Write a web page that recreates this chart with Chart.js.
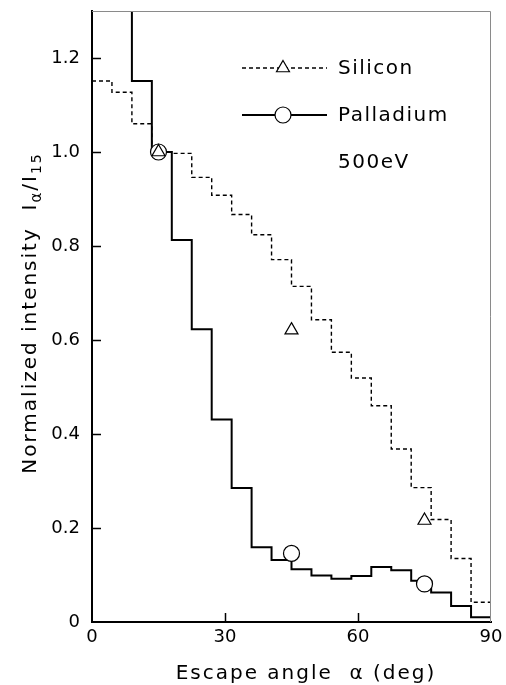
<!DOCTYPE html>
<html lang="en">
<head>
<meta charset="UTF-8">
<title>Normalized intensity vs escape angle</title>
<script src="https://cdn.jsdelivr.net/npm/chart.js"></script>
<style>
  html, body { margin: 0; padding: 0; background: #fff; }
  #wrap { width: 506px; height: 685px; }
</style>
</head>
<body>
<div id="wrap"><canvas id="chart"></canvas></div>
<script>
// histogram bins, 4.5 deg wide
const binEdges = [0, 4.5, 9, 13.5, 18, 22.5, 27, 31.5, 36, 40.5, 45, 49.5, 54, 58.5, 63, 67.5, 72, 76.5, 81, 85.5, 90];
const siliconValues = [1.151, 1.127, 1.060, 1.0, 0.997, 0.946, 0.908, 0.867, 0.824, 0.771, 0.714, 0.643, 0.574, 0.519, 0.460, 0.368, 0.286, 0.218, 0.135, 0.042];
// first Pd bins run off the top of the frame
const palladiumValues = [null, 1.45, 1.151, 1.0, 0.813, 0.623, 0.431, 0.285, 0.159, 0.132, 0.112, 0.099, 0.092, 0.098, 0.117, 0.110, 0.088, 0.063, 0.034, 0.010];
// measured points
const markerAngles = [15, 45, 75];
const siliconMarkers = [1.0, 0.621, 0.216];
const palladiumMarkers = [1.0, 0.146, 0.081];
const xTicks = [0, 30, 60, 90];
const yTicks = [0, 0.2, 0.4, 0.6, 0.8, 1.0, 1.2];

const FONT = "'DejaVu Sans', sans-serif";

// one point per left bin edge, plus the closing edge
function steps(values) {
  const pts = values.map((v, i) => ({ x: binEdges[i], y: v }));
  pts.push({ x: binEdges[binEdges.length - 1], y: values[values.length - 1] });
  return pts;
}
function markers(values) {
  return markerAngles.map((a, i) => ({ x: a, y: values[i] }));
}

// inward ticks, thin top/right frame, legend and axis titles
const decorations = {
  id: 'decorations',
  afterDraw(chart) {
    const { ctx, chartArea: ca, scales: { x, y } } = chart;
    ctx.save();
    // top and right frame
    ctx.strokeStyle = '#8a8a8a';
    ctx.lineWidth = 1;
    ctx.beginPath();
    ctx.moveTo(ca.left, ca.top + 0.5);
    ctx.lineTo(ca.right - 0.5, ca.top + 0.5);
    ctx.lineTo(ca.right - 0.5, ca.bottom);
    ctx.stroke();
    // inward ticks
    ctx.strokeStyle = '#000';
    ctx.lineWidth = 1.5;
    ctx.beginPath();
    yTicks.filter(v => v > 0).forEach(v => {
      const py = Math.round(y.getPixelForValue(v)) + 0.5;
      ctx.moveTo(ca.left, py);
      ctx.lineTo(ca.left + 9, py);
    });
    [30, 60].forEach(v => {
      const px = Math.round(x.getPixelForValue(v)) + 0.5;
      ctx.moveTo(px, ca.bottom);
      ctx.lineTo(px, ca.bottom - 9);
    });
    ctx.stroke();

    // legend
    const lx0 = 242, lx1 = 327, mx = 283, tx = 338;
    ctx.lineWidth = 1.4;
    ctx.setLineDash([4, 3]);
    ctx.beginPath();
    ctx.moveTo(lx0, 68); ctx.lineTo(lx1, 68);
    ctx.stroke();
    ctx.setLineDash([]);
    ctx.lineWidth = 2;
    ctx.beginPath();
    ctx.moveTo(lx0, 115); ctx.lineTo(lx1, 115);
    ctx.stroke();
    ctx.lineWidth = 1.2;
    ctx.fillStyle = '#fff';
    // triangle
    const r = 7.5;
    ctx.beginPath();
    ctx.moveTo(mx, 68 - r);
    ctx.lineTo(mx + r * 0.866, 68 + r * 0.5);
    ctx.lineTo(mx - r * 0.866, 68 + r * 0.5);
    ctx.closePath();
    ctx.fill(); ctx.stroke();
    // circle
    ctx.beginPath();
    ctx.arc(mx, 115, 8, 0, Math.PI * 2);
    ctx.fill(); ctx.stroke();

    ctx.fillStyle = '#000';
    ctx.font = '20px ' + FONT;
    ctx.letterSpacing = '1.5px';
    ctx.textAlign = 'left';
    ctx.textBaseline = 'middle';
    ctx.fillText('Silicon', tx, 69);
    ctx.fillText('Palladium', tx, 116);
    ctx.fillText('500eV', tx, 163);

    // x title
    ctx.letterSpacing = '2px';
    ctx.textAlign = 'center';
    ctx.fillText('Escape angle  \u03b1 (deg)', 306, 674);

    // y title with subscripts
    const parts = [
      ['Normalized intensity  I', 20, 0],
      ['\u03b1', 15, 5],
      ['/I', 20, 0],
      ['15', 14, 5]
    ];
    ctx.textAlign = 'left';
    ctx.textBaseline = 'alphabetic';
    let total = 0;
    parts.forEach(p => { ctx.font = p[1] + 'px ' + FONT; total += ctx.measureText(p[0]).width; });
    ctx.translate(36, 313);
    ctx.rotate(-Math.PI / 2);
    let cx = -total / 2;
    parts.forEach(p => {
      ctx.font = p[1] + 'px ' + FONT;
      ctx.fillText(p[0], cx, p[2]);
      cx += ctx.measureText(p[0]).width;
    });
    ctx.restore();
  }
};

const config = {
  type: 'scatter',
  data: {
    datasets: [
      {
        label: 'Silicon points',
        data: markers(siliconMarkers),
        pointStyle: 'triangle',
        pointRadius: 7.5,
        backgroundColor: '#fff',
        borderColor: '#000',
        borderWidth: 1.2
      },
      {
        label: 'Palladium points',
        data: markers(palladiumMarkers),
        pointStyle: 'circle',
        pointRadius: 8,
        backgroundColor: '#fff',
        borderColor: '#000',
        borderWidth: 1.2
      },
      {
        label: 'Silicon',
        data: steps(siliconValues),
        showLine: true,
        stepped: 'before',
        pointRadius: 0,
        borderColor: '#000',
        borderWidth: 1.4,
        borderDash: [4, 3]
      },
      {
        label: 'Palladium',
        data: steps(palladiumValues),
        showLine: true,
        stepped: 'before',
        spanGaps: false,
        pointRadius: 0,
        borderColor: '#000',
        borderWidth: 2
      }
    ]
  },
  options: {
    responsive: true,
    maintainAspectRatio: false,
    animation: false,
    layout: { padding: { top: 11, right: 15, left: 0, bottom: 0 } },
    plugins: {
      legend: { display: false },
      tooltip: { enabled: false }
    },
    scales: {
      x: {
        type: 'linear',
        min: 0,
        max: 90,
        afterBuildTicks: s => { s.ticks = xTicks.map(v => ({ value: v })); },
        afterFit: s => { s.height = 63; s.paddingLeft = 0; s.paddingRight = 0; },
        ticks: {
          color: '#000',
          font: { family: FONT, size: 18 },
          padding: 5,
          maxRotation: 0
        },
        grid: { display: true, drawOnChartArea: false, drawTicks: false },
        border: { display: true, color: '#000', width: 2 }
      },
      y: {
        min: 0,
        max: 1.3,
        afterBuildTicks: s => { s.ticks = yTicks.map(v => ({ value: v })); },
        afterFit: s => { s.width = 92; s.paddingTop = 0; s.paddingBottom = 0; },
        ticks: {
          color: '#000',
          font: { family: FONT, size: 18 },
          padding: 12,
          callback: v => (v === 0 ? '0' : v.toFixed(1))
        },
        grid: { display: true, drawOnChartArea: false, drawTicks: false },
        border: { display: true, color: '#000', width: 2 }
      }
    }
  },
  plugins: [decorations]
};

const ctx = document.querySelector('#chart').getContext('2d');
const myChart = new Chart(ctx, config);
</script>
</body>
</html>
